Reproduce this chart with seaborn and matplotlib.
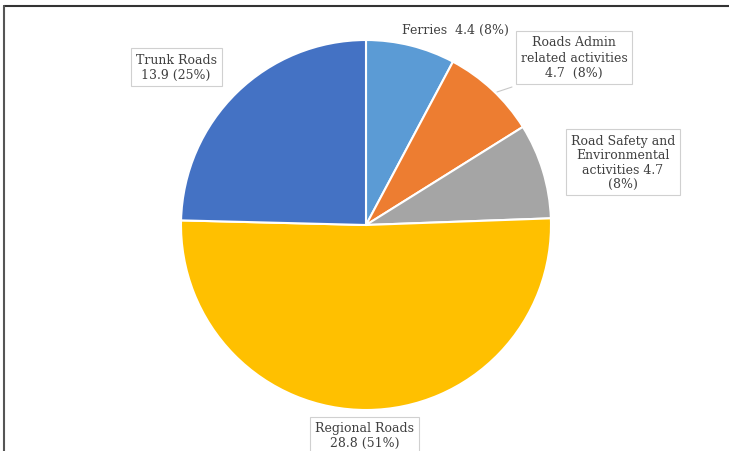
import matplotlib
matplotlib.use("Agg")
import matplotlib.pyplot as plt
import seaborn as sns
from matplotlib.lines import Line2D

sns.set_theme(style="white")
plt.rcParams['font.family'] = ['DejaVu Serif', 'DejaVu Sans']

categories = ["Ferries", "Roads Admin related activities", "Road Safety and Environmental activities",
              "Regional Roads", "Trunk Roads"]
values = [4.4, 4.7, 4.7, 28.8, 13.9]
percents = [8, 8, 8, 51, 25]
colors = ["#5B9BD5", "#ED7D31", "#A5A5A5", "#FFC000", "#4472C4"]
label_texts = [
    "Ferries  4.4 (8%)",
    "Roads Admin\nrelated activities\n4.7  (8%)",
    "Road Safety and\nEnvironmental\nactivities 4.7\n(8%)",
    "Regional Roads\n28.8 (51%)",
    "Trunk Roads\n13.9 (25%)",
]

W, H = 729, 452
fig = plt.figure(figsize=(W / 100, H / 100), dpi=100)
ax = fig.add_axes([0, 0, 1, 1])

cx, cy, r = 366, H - 226, 185
ax.pie(values, colors=colors, startangle=90, counterclock=False,
       center=(cx, cy), radius=r, frame=False,
       wedgeprops=dict(edgecolor="white", linewidth=1.5))
ax.set_xlim(0, W)
ax.set_ylim(0, H)
ax.set_aspect("equal")
ax.axis("off")

box = dict(boxstyle="square,pad=0.4", facecolor="white", edgecolor="#d0d0d0", linewidth=0.8)
box_plain = dict(boxstyle="square,pad=0.2", facecolor="white", edgecolor="none")
fs = 9
tc = "#404040"

# Ferries (partly covered by the next label)
ax.text(402, H - 30, label_texts[0], fontsize=fs, color=tc, ha="left", va="center",
        bbox=box_plain, zorder=5)
# Roads Admin leader
ax.add_line(Line2D([497, 512], [H - 93, H - 88], color="#c8c8c8", lw=0.8, zorder=5))
ax.text(574, H - 58, label_texts[1], fontsize=fs, color=tc, ha="center", va="center",
        linespacing=1.2, bbox=box, zorder=6)
ax.text(623, H - 163, label_texts[2], fontsize=fs, color=tc, ha="center", va="center",
        linespacing=1.15, bbox=box, zorder=6)
ax.text(176, H - 68, label_texts[4], fontsize=fs, color=tc, ha="center", va="center",
        linespacing=1.15, bbox=box, zorder=6)
ax.text(365, H - 436, label_texts[3], fontsize=fs, color=tc, ha="center", va="center",
        linespacing=1.1, bbox=box, zorder=6)

# frame lines
ax.add_line(Line2D([4, W], [H - 7, H - 7], color="#333333", lw=1.5, zorder=10))
ax.add_line(Line2D([4, 4], [0, H - 7], color="#555555", lw=1.5, zorder=10))

fig.savefig("out.png", dpi=100, facecolor="white")
